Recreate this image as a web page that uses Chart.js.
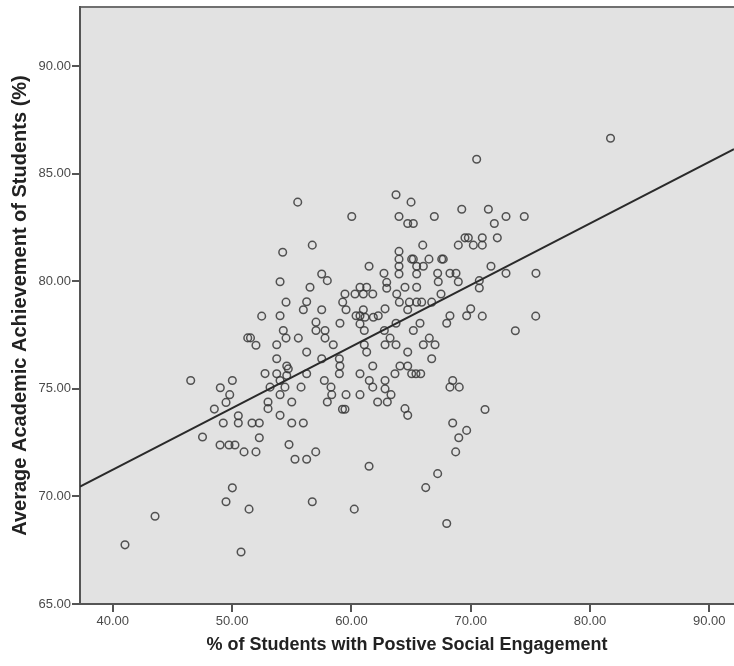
<!DOCTYPE html>
<html>
<head>
<meta charset="utf-8">
<script src="https://cdn.jsdelivr.net/npm/chart.js@4.4.1/dist/chart.umd.min.js"></script>
<style>
  html, body { margin: 0; padding: 0; background: #ffffff; }
  canvas { display: block; }
</style>
</head>
<body>
<canvas id="chart" width="734" height="666"></canvas>
<script>
// % of students with positive social engagement (x) per school
const engagement = [
  41.02, 43.54, 47.52, 48.99, 49.74, 50.24, 51.00, 52.00, 52.28, 50.02, 49.49, 51.42, 50.75,
  52.48, 51.31, 51.54, 52.00, 52.76, 46.53, 50.02, 49.01, 49.80, 49.49, 48.51, 50.52, 50.52, 49.26, 51.67, 52.28,
  54.02, 57.98, 56.53, 60.72, 61.28, 62.96, 62.96, 64.49, 65.47, 67.28, 68.96,
  54.52, 56.25, 55.97, 57.51, 59.46, 60.30, 61.00, 61.79, 59.27, 59.55, 61.00, 62.82, 63.80, 64.02, 64.86, 65.47, 65.89, 64.72, 66.73, 67.51,
  54.02, 60.39, 60.72, 61.14, 61.84, 62.25, 60.72, 57.03, 57.03, 59.04, 63.74, 65.75, 68.26, 67.99, 69.66,
  54.29, 57.79, 57.79, 61.08, 62.76, 65.19, 54.52, 55.55, 63.24, 63.74, 62.82, 53.74, 58.48, 61.08, 66.53, 66.03, 67.01, 56.25, 61.28, 64.72, 53.74, 57.51, 58.99, 66.73,
  54.58, 54.71, 59.04, 61.79, 64.07, 64.72, 53.74, 54.58, 56.25, 58.99, 60.72, 63.65, 65.05, 65.41, 65.81, 54.02, 57.73, 61.50, 62.82, 53.18, 54.43, 55.78, 58.29, 61.79, 62.82, 68.49, 68.26, 69.04,
  54.02, 58.35, 59.55, 60.72, 63.32, 53.01, 55.00, 57.98, 62.20, 63.01, 59.25, 59.46, 64.49, 64.72, 53.01, 54.02, 55.00, 55.97, 68.49, 69.66, 69.00,
  71.20, 68.74, 54.77, 55.27, 56.25, 57.01, 61.48, 67.23, 66.23, 56.72, 60.24, 67.99,
  70.00, 70.97, 75.45, 73.74,
  55.50, 63.74, 65.00, 60.03, 63.99, 64.72, 65.19, 66.95, 69.25, 54.24, 56.72, 65.98, 68.96, 69.52, 69.80, 63.99, 63.99, 63.99, 63.99, 65.05, 65.19, 66.50, 67.57, 67.70, 61.48, 57.51, 62.73, 65.47, 65.47, 66.03, 67.23, 68.26, 68.77,
  70.50, 81.72, 71.48, 72.96, 74.49, 71.98, 70.97, 72.23, 70.22, 70.97, 71.70, 72.96, 75.47, 70.72, 70.72
];

// Average academic achievement (%) for the same schools, in the same order
const achievement = [
  67.75, 69.08, 72.76, 72.39, 72.39, 72.39, 72.07, 72.07, 72.73, 70.40, 69.75, 69.41, 67.42,
  78.38, 77.37, 77.37, 77.03, 75.71, 75.39, 75.39, 75.05, 74.73, 74.37, 74.06, 73.75, 73.41, 73.41, 73.41, 73.41,
  79.98, 80.03, 79.72, 79.72, 79.72, 79.95, 79.68, 79.72, 79.72, 79.98, 79.98,
  79.03, 79.05, 78.68, 78.68, 79.41, 79.41, 79.41, 79.41, 79.03, 78.68, 78.68, 78.72, 79.41, 79.03, 79.03, 79.03, 79.03, 78.68, 79.03, 79.41,
  78.40, 78.40, 78.40, 78.33, 78.33, 78.40, 78.02, 78.10, 77.71, 78.05, 78.05, 78.05, 78.40, 78.05, 78.40,
  77.71, 77.71, 77.36, 77.71, 77.71, 77.71, 77.36, 77.36, 77.36, 77.05, 77.05, 77.05, 77.05, 77.05, 77.36, 77.05, 77.05, 76.71, 76.71, 76.71, 76.40, 76.40, 76.40, 76.40,
  76.06, 75.93, 76.06, 76.06, 76.06, 76.06, 75.70, 75.62, 75.70, 75.70, 75.70, 75.70, 75.70, 75.70, 75.70, 75.39, 75.39, 75.39, 75.39, 75.08, 75.08, 75.08, 75.08, 75.08, 75.00, 75.39, 75.08, 75.08,
  74.73, 74.73, 74.73, 74.73, 74.73, 74.39, 74.39, 74.39, 74.39, 74.39, 74.05, 74.05, 74.08, 73.77, 74.08, 73.77, 73.41, 73.41, 73.41, 73.07, 72.73,
  74.04, 72.07, 72.41, 71.73, 71.73, 72.07, 71.40, 71.06, 70.41, 69.75, 69.41, 68.74,
  78.72, 78.38, 78.38, 77.70,
  83.68, 84.02, 83.68, 83.01, 83.01, 82.69, 82.69, 83.01, 83.35, 81.35, 81.68, 81.68, 81.68, 82.02, 82.02, 81.39, 81.03, 80.70, 80.34, 81.03, 81.03, 81.03, 81.03, 81.03, 80.70, 80.34, 80.37, 80.70, 80.34, 80.70, 80.37, 80.37, 80.37,
  85.67, 86.65, 83.35, 83.01, 83.01, 82.69, 82.02, 82.02, 81.68, 81.68, 80.70, 80.37, 80.37, 80.03, 79.69
];

// Axis ranges and tick marks
const xTicks = [40, 50, 60, 70, 80, 90];
const yTicks = [65, 70, 75, 80, 85, 90];
const xRange = [37.25, 92.07];
const yRange = [65, 92.75];

// Linear fit line (achievement = intercept + slope * engagement)
const fitIntercept = 59.79;
const fitSlope = 0.2862;

const points = engagement.map((x, i) => ({ x: x, y: achievement[i] }));
const fitLine = xRange.map(x => ({ x: x, y: fitIntercept + fitSlope * x }));

const FONT = "'Liberation Sans', Arial, sans-serif";
const AXIS_COLOR = '#555555';

// Grey plot panel with a frame line along the top
const plotPanel = {
  id: 'plotPanel',
  beforeDraw(chart) {
    const { ctx, chartArea: a } = chart;
    ctx.save();
    ctx.fillStyle = '#e2e2e2';
    ctx.fillRect(a.left, a.top, a.right - a.left, a.bottom - a.top);
    ctx.strokeStyle = '#707070';
    ctx.lineWidth = 2;
    ctx.beginPath();
    ctx.moveTo(a.left, a.top);
    ctx.lineTo(a.right, a.top);
    ctx.stroke();
    ctx.restore();
  }
};

new Chart(document.getElementById('chart'), {
  type: 'scatter',
  data: {
    datasets: [
      {
        type: 'line',
        data: fitLine,
        borderColor: '#2a2a2a',
        borderWidth: 2,
        pointRadius: 0,
        fill: false,
        order: 0
      },
      {
        data: points,
        pointStyle: 'circle',
        pointRadius: 3.8,
        pointBorderWidth: 1.5,
        borderColor: 'rgba(55,55,55,0.85)',
        backgroundColor: 'rgba(0,0,0,0)',
        order: 1
      }
    ]
  },
  options: {
    responsive: false,
    animation: false,
    devicePixelRatio: 1,
    layout: { autoPadding: false, padding: { top: 7, right: 0, bottom: 0, left: 0 } },
    plugins: {
      legend: { display: false },
      tooltip: { enabled: false }
    },
    scales: {
      x: {
        type: 'linear',
        position: 'bottom',
        min: xRange[0],
        max: xRange[1],
        afterBuildTicks: axis => { axis.ticks = xTicks.map(v => ({ value: v })); },
        afterFit: axis => {
          axis.height = 62;
          axis.paddingLeft = 0;
          axis.paddingRight = 0;
        },
        ticks: {
          callback: v => Number(v).toFixed(2),
          font: { family: FONT, size: 13 },
          color: '#4a4a4a',
          padding: 2,
          autoSkip: false,
          maxRotation: 0
        },
        grid: {
          drawOnChartArea: false,
          drawTicks: true,
          tickLength: 8,
          color: AXIS_COLOR,
          lineWidth: 2
        },
        border: { display: true, color: AXIS_COLOR, width: 2 },
        title: {
          display: true,
          text: '% of Students with Postive Social Engagement',
          font: { family: FONT, size: 18, weight: 'bold' },
          color: '#222222',
          padding: { top: 0, bottom: 10 }
        }
      },
      y: {
        type: 'linear',
        position: 'left',
        min: yRange[0],
        max: yRange[1],
        afterBuildTicks: axis => { axis.ticks = yTicks.map(v => ({ value: v })); },
        afterFit: axis => {
          axis.width = 80;
          axis.paddingTop = 0;
          axis.paddingBottom = 0;
        },
        ticks: {
          callback: v => Number(v).toFixed(2),
          font: { family: FONT, size: 13 },
          color: '#4a4a4a',
          padding: 1,
          autoSkip: false
        },
        grid: {
          drawOnChartArea: false,
          drawTicks: true,
          tickLength: 8,
          color: AXIS_COLOR,
          lineWidth: 2
        },
        border: { display: true, color: AXIS_COLOR, width: 2 },
        title: {
          display: true,
          text: 'Average Academic Achievement of Students (%)',
          font: { family: FONT, size: 20, weight: 'bold' },
          color: '#222222',
          padding: { top: 8, bottom: 0 }
        }
      }
    }
  },
  plugins: [plotPanel]
});
</script>
</body>
</html>
